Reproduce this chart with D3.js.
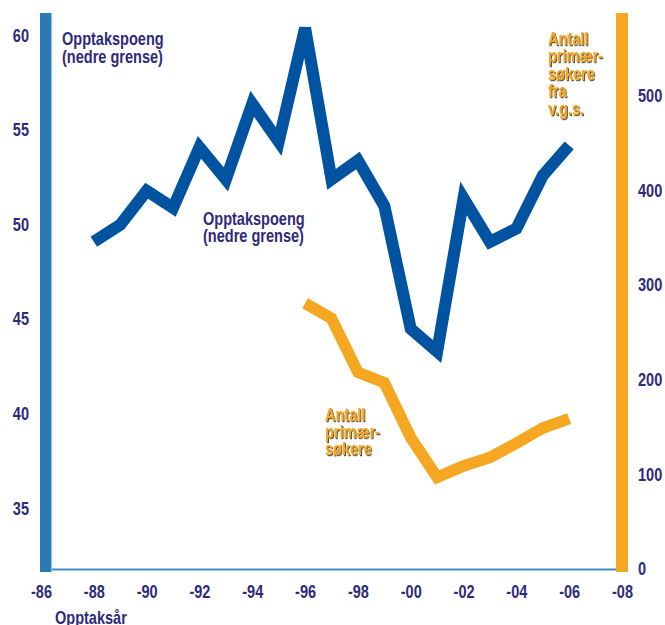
<!DOCTYPE html>
<html>
<head>
<meta charset="utf-8">
<script src="https://cdn.jsdelivr.net/npm/d3@7"></script>
<style>
  html, body { margin: 0; padding: 0; background: #fff; }
  svg text { font-family: "Liberation Sans", Arial, sans-serif; font-weight: bold; font-size: 17.5px; }
</style>
</head>
<body>
<svg id="chart" width="665" height="625">
  <defs>
    <filter id="shadow" x="-10%" y="-10%" width="130%" height="140%">
      <feDropShadow dx="1.2" dy="1.2" stdDeviation="0.3" flood-color="#3a3020" flood-opacity="0.85"/>
    </filter>
  </defs>
</svg>
<script>
// ---- data ----
const yearsPoeng = [1988,1989,1990,1991,1992,1993,1994,1995,1996,1997,1998,1999,2000,2001,2002,2003,2004,2005,2006];
const opptakspoeng = [49.1,50.0,51.8,50.9,54.1,52.4,56.4,54.4,60.4,52.4,53.4,51.0,44.5,43.3,51.4,49.1,49.8,52.6,54.2];
const yearsSokere = [1996,1997,1998,1999,2000,2001,2002,2003,2004,2005,2006];
const primersokere = [281,265,208,197,139,97,109,118,133,149,159];
const xTickYears = [1986,1988,1990,1992,1994,1996,1998,2000,2002,2004,2006,2008];
const xTickLabels = ["-86","-88","-90","-92","-94","-96","-98","-00","-02","-04","-06","-08"];
const leftTicks = [35,40,45,50,55,60];
const rightTicks = [0,100,200,300,400,500];

const navy = "#2e2a7c";
const blue = "#0053a0";
const orange = "#f6a722";
const squeeze = "scale(0.83,1)";

const svg = d3.select("#chart");

const x = d3.scaleLinear().domain([1986, 2008]).range([41, 622]);
const yL = d3.scaleLinear().domain([31.8, 61.2]).range([569, 13]);
const yR = d3.scaleLinear().domain([0, 588]).range([569, 13]);

// frame bars
svg.append("rect").attr("x", 40).attr("y", 13).attr("width", 12).attr("height", 559).attr("fill", "#2a7ab6");
svg.append("rect").attr("x", 51).attr("y", 13).attr("width", 1.2).attr("height", 559).attr("fill", "#9cc6e6");
svg.append("rect").attr("x", 616).attr("y", 13).attr("width", 12).attr("height", 559).attr("fill", "#f7a823");
// baseline
svg.append("line").attr("x1", 52).attr("x2", 616).attr("y1", 569.5).attr("y2", 569.5)
  .attr("stroke", "#3f8dcb").attr("stroke-width", 2);

// axes
const axB = d3.axisBottom(x).tickValues(xTickYears).tickSize(0).tickPadding(0)
  .tickFormat((d, i) => xTickLabels[i]);
const gB = svg.append("g").attr("transform", "translate(0,586)").call(axB);
const axL = d3.axisLeft(yL).tickValues(leftTicks).tickSize(0).tickPadding(0);
const gL = svg.append("g").attr("transform", "translate(29,0)").call(axL);
const axR = d3.axisRight(yR).tickValues(rightTicks).tickSize(0).tickPadding(0);
const gR = svg.append("g").attr("transform", "translate(638,0)").call(axR);
[gB, gL, gR].forEach(g => {
  g.select(".domain").remove();
  g.selectAll("text").attr("fill", navy).attr("transform", squeeze)
    .style("font-size", "17.5px")
    .style("font-family", "\"Liberation Sans\", Arial, sans-serif")
    .style("font-weight", "bold");
});

// lines
const linePoeng = d3.line().x((d, i) => x(yearsPoeng[i])).y(d => yL(d));
svg.append("path").datum(opptakspoeng).attr("d", linePoeng)
  .attr("fill", "none").attr("stroke", blue).attr("stroke-width", 12)
  .attr("stroke-linejoin", "miter").attr("stroke-miterlimit", 4);

const lineSok = d3.line().x((d, i) => x(yearsSokere[i])).y(d => yR(d));
svg.append("path").datum(primersokere).attr("d", lineSok)
  .attr("fill", "none").attr("stroke", orange).attr("stroke-width", 11.5)
  .attr("stroke-linejoin", "miter").attr("stroke-miterlimit", 4);

// text labels
function label(lines, x0, y0, dy, color, shadow) {
  const g = svg.append("g").attr("transform", `translate(${x0},0) ${squeeze}`);
  const t = g.append("text").attr("fill", color);
  if (shadow) t.attr("filter", "url(#shadow)");
  lines.forEach((s, i) => t.append("tspan").attr("x", 0).attr("y", y0 + i * dy).text(s));
}
label(["Opptakspoeng", "(nedre grense)"], 62, 45, 18, navy, false);
label(["Opptakspoeng", "(nedre grense)"], 203, 225, 17.5, navy, false);
label(["Antall", "primær-", "søkere", "fra", "v.g.s."], 548, 45, 17.5, orange, true);
label(["Antall", "primær-", "søkere"], 325, 421, 17, orange, true);
label(["Opptaksår"], 55, 624, 0, navy, false);
</script>
</body>
</html>
